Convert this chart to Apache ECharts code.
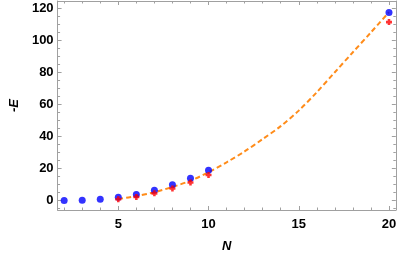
<!DOCTYPE html>
<html>
<head>
<meta charset="utf-8">
<script src="https://cdn.jsdelivr.net/npm/echarts@6/dist/echarts.min.js"></script>
<style>html,body{margin:0;padding:0;background:#fff}#c{width:399px;height:258px}</style>
</head>
<body>
<div id="c"></div>
<script>
// Data
const blueN = [2, 3, 4, 5, 6, 7, 8, 9, 10, 20];
const blueE = [0.1, 0.3, 0.9, 2.1, 3.9, 6.6, 10.0, 14.1, 19.0, 117.6];
const redN = [5, 6, 7, 8, 9, 10, 20];
const redE = [0.9, 2.3, 4.6, 7.6, 11.4, 16.1, 111.6];
const fitN = [5, 6, 7, 8, 9, 10, 11, 12, 13, 14, 15, 16, 17, 18, 19, 20];
const fitE = [1.0, 2.9, 5.3, 8.6, 12.5, 17.8, 24.0, 30.8, 38.5, 46.6, 56.3, 67.8, 80.3, 92.8, 105.2, 117.8];
const xMajor = [5, 10, 15, 20];
const xMinor = [2, 3, 4, 6, 7, 8, 9, 11, 12, 13, 14, 16, 17, 18, 19];
const yMajor = [0, 20, 40, 60, 80, 100, 120];
const yMinor = [-5, 5, 10, 15, 25, 30, 35, 45, 50, 55, 65, 70, 75, 85, 90, 95, 105, 110, 115];

const XMIN = 1.636, XMAX = 20.38, YMIN = -5.8, YMAX = 124.8;
const frameColor = '#a0a0a0';
const fontFam = 'Liberation Sans, Arial, sans-serif';
const labelFont = {color: '#000', fontWeight: 'bold', fontSize: 13, fontFamily: fontFam};

function mkAxis(kind, pos, ticks, len, showLine, labels, extra) {
  const ax = {
    type: 'value', position: pos,
    min: kind === 'x' ? XMIN : YMIN, max: kind === 'x' ? XMAX : YMAX,
    splitLine: {show: false},
    axisLine: {show: showLine, onZero: false, lineStyle: {color: frameColor, width: 1}},
    axisTick: {show: true, inside: true, length: len, customValues: ticks, lineStyle: {color: frameColor, width: 1}},
    axisLabel: labels ? Object.assign({show: true, customValues: labels, margin: kind === 'x' ? 8 : 4}, labelFont) : {show: false}
  };
  return Object.assign(ax, extra || {});
}

const xAxes = [
  mkAxis('x', 'bottom', xMajor, 4, true, xMajor, {
    name: 'N', nameLocation: 'middle', nameGap: 30,
    nameTextStyle: {color: '#000', fontWeight: 'bold', fontStyle: 'italic', fontSize: 13, fontFamily: fontFam}
  }),
  mkAxis('x', 'bottom', xMinor, 2.5, false, null),
  mkAxis('x', 'top', xMajor, 4, true, null),
  mkAxis('x', 'top', xMinor, 2.5, false, null)
];
const yAxes = [
  mkAxis('y', 'left', yMajor, 4, true, yMajor, {
    name: '-E', nameLocation: 'middle', nameGap: 36, nameRotate: 90,
    nameTextStyle: {color: '#000', fontWeight: 'bold', fontStyle: 'italic', fontSize: 13, fontFamily: fontFam}
  }),
  mkAxis('y', 'left', yMinor, 2.5, false, null),
  mkAxis('y', 'right', yMajor, 4, true, null),
  mkAxis('y', 'right', yMinor, 2.5, false, null)
];

const zip = (a, b) => a.map((v, i) => [v, b[i]]);

const chart = echarts.init(document.getElementById('c'), null, {renderer: 'canvas'});
chart.setOption({
  animation: false,
  backgroundColor: '#fff',
  grid: {left: 47, right: 1, top: 1, bottom: 42, containLabel: false},
  xAxis: xAxes,
  yAxis: yAxes,
  series: [
    {
      type: 'line', data: zip(fitN, fitE), smooth: 0.3, symbol: 'none',
      lineStyle: {color: '#ff8c1a', width: 2, type: [5, 3]}, z: 2
    },
    {
      type: 'scatter', data: zip(blueN, blueE), symbol: 'circle', symbolSize: 7,
      itemStyle: {color: '#0000ff'}, z: 3
    },
    {
      type: 'scatter', data: zip(redN, redE),
      symbol: 'path://M2,0H5V2H7V5H5V7H2V5H0V2H2Z', symbolSize: 6,
      itemStyle: {color: '#ff0000'}, z: 4
    }
  ]
});
</script>
</body>
</html>
